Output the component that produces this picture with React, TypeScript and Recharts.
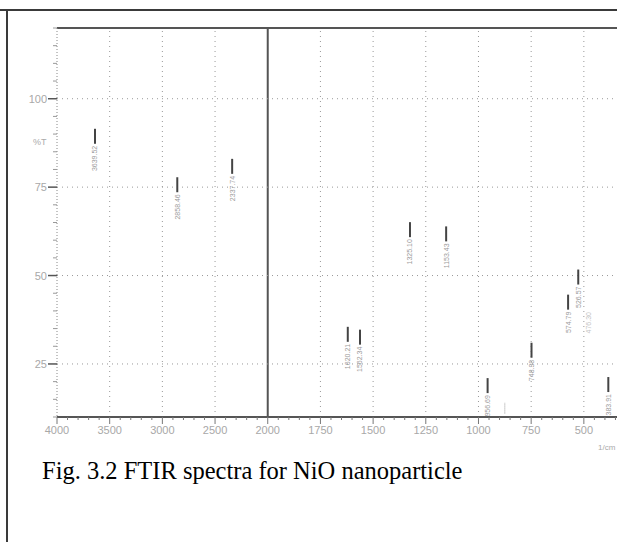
import React from "react";
import { ScatterChart, Scatter, XAxis, YAxis, ReferenceLine } from "recharts";

// Wavenumber axis (cm-1): scale doubles below 2000
const xMajorWavenumbers = [4000, 3500, 3000, 2500, 2000, 1750, 1500, 1250, 1000, 750, 500];
const xTickLabels = ["4000", "3500", "3000", "2500", "2000", "1750", "1500", "1250", "1000", "750", "500"];
const yMajorTicks = [25, 50, 75, 100];
const yTickLabels = ["25", "50", "75", "100"];

// Peak table (wavenumber, %T, label)
const peakWavenumbers = [3639.52, 2858.46, 2337.74, 1620.21, 1562.34, 1325.1, 1153.43, 956.69, 748.38, 574.79, 526.57, 476.3, 383.91];
const peakTransmittance = [91.5, 77.8, 83.0, 35.5, 34.7, 65.1, 63.9, 21.0, 31.0, 44.6, 51.7, 44.5, 21.3];
const peakLabels = ["3639.52", "2858.46", "2337.74", "1620.21", "1562.34", "1325.10", "1153.43", "956.69", "748.38", "574.79", "526.57", "476.30", "383.91"];
const peakFaint = [false, false, false, false, false, false, false, false, false, false, false, true, false];

const toU = (wn: number) => (wn >= 2000 ? (4000 - wn) / 500 : 4 + (2000 - wn) / 250);

const data = peakWavenumbers.map((wn, i) => ({
  u: toU(wn),
  t: peakTransmittance[i],
  label: peakLabels[i],
  faint: peakFaint[i],
}));

const xTicks: number[] = [];
for (let i = 0; i <= 54; i++) xTicks.push(Math.round(i * 0.2 * 100) / 100);
const yTicks: number[] = [];
for (let v = 10; v <= 120; v += 5) yTicks.push(v);

const labelFill = "#a8a8a8";

const XTick = (props: any) => {
  const { x, y, payload } = props;
  const v = payload.value;
  const majorIdx = xMajorWavenumbers.findIndex((w) => Math.abs(toU(w) - v) < 1e-6);
  const isMajor = majorIdx >= 0;
  return (
    <g>
      <line x1={x} x2={x} y1={y} y2={y + (isMajor ? 7 : 3)} stroke="#777" strokeWidth={1} />
      {isMajor && (
        <text x={x} y={y + 17} textAnchor="middle" fontSize={11} fill={labelFill} fontFamily="Liberation Sans, Arial">
          {xTickLabels[majorIdx]}
        </text>
      )}
    </g>
  );
};

const YTick = (props: any) => {
  const { x, y, payload } = props;
  const v = payload.value;
  const idx = yMajorTicks.indexOf(v);
  const isMajor = idx >= 0;
  return (
    <g>
      <line x1={x} x2={x - (isMajor ? 9 : 4)} y1={y} y2={y} stroke={isMajor ? "#555" : "#999"} strokeWidth={isMajor ? 1.5 : 1} />
      {isMajor && (
        <text x={x - 10} y={y + 4} textAnchor="end" fontSize={11} fill={labelFill} fontFamily="Liberation Sans, Arial">
          {yTickLabels[idx]}
        </text>
      )}
    </g>
  );
};

const PeakMarker = (props: any) => {
  const { cx, cy, payload } = props;
  if (cx == null || cy == null) return null;
  return (
    <g>
      {!payload.faint && <line x1={cx} x2={cx} y1={cy} y2={cy + 15} stroke="#444" strokeWidth={2} />}
      <text
        transform={`translate(${cx + 2.5},${cy + 17}) rotate(-90)`}
        textAnchor="end"
        fontSize={7}
        fill={payload.faint ? "#c4c4c4" : "#9a9a9a"}
        fontFamily="Liberation Sans, Arial"
      >
        {payload.label}
      </text>
    </g>
  );
};

const gridU = [1, 2, 3, 5, 6, 7, 8, 9, 10];

export default function App() {
  return (
    <div style={{ position: "absolute", left: 0, top: 0, width: 617, height: 542, overflow: "hidden", background: "#fff" }}>
      <div style={{ position: "absolute", left: 0, top: 9, width: 617, height: 2, background: "#3a3a3a" }} />
      <div style={{ position: "absolute", left: 6, top: 10, width: 2, height: 532, background: "#3a3a3a" }} />
      <div style={{ position: "absolute", left: 0, top: 0 }}>
        <ScatterChart width={630} height={450} margin={{ top: 28, right: 4, bottom: 8, left: 0 }}>
          <XAxis
            dataKey="u"
            type="number"
            domain={[0, 10.8]}
            allowDataOverflow
            ticks={xTicks}
            interval={0}
            tickSize={0}
            tickMargin={0}
            tickLine={false}
            tick={<XTick />}
            height={25}
            axisLine={{ stroke: "#555", strokeWidth: 2 }}
          />
          <YAxis
            dataKey="t"
            type="number"
            domain={[10, 120]}
            allowDataOverflow
            ticks={yTicks}
            interval={0}
            tickSize={0}
            tickMargin={0}
            tickLine={false}
            tick={<YTick />}
            width={57}
            axisLine={{ stroke: "#888", strokeDasharray: "1 2" }}
          />
          {gridU.map((u) => (
            <ReferenceLine key={"gx" + u} x={u} stroke="#999" strokeDasharray="1 4" />
          ))}
          <ReferenceLine x={4} stroke="#555" strokeWidth={2} />
          {yMajorTicks.map((v) => (
            <ReferenceLine key={"gy" + v} y={v} stroke="#999" strokeDasharray="1 4" />
          ))}
          <ReferenceLine y={120} stroke="#555" strokeWidth={2} />
          <ReferenceLine
            segment={[{ x: 8.47, y: 10 }, { x: 8.6, y: 10 }]}
            stroke="#fff"
            strokeWidth={4}
          />
          <ReferenceLine
            segment={[{ x: 8.5, y: 11 }, { x: 8.5, y: 14 }]}
            stroke="#999"
            strokeDasharray="1 1"
          />
          <Scatter data={data} isAnimationActive={false} shape={<PeakMarker />} />
        </ScatterChart>
      </div>
      <div style={{ position: "absolute", left: 33, top: 137, fontSize: 9, color: "#aaa", fontFamily: "Liberation Sans, Arial" }}>%T</div>
      <div style={{ position: "absolute", left: 598, top: 443, fontSize: 8, color: "#aaa", fontFamily: "Liberation Sans, Arial", whiteSpace: "nowrap" }}>1/cm</div>
      <div
        style={{
          position: "absolute",
          left: 42,
          top: 458.5,
          fontSize: "24.5px",
          lineHeight: "24.5px",
          fontFamily: "Liberation Serif, Times New Roman, serif",
          color: "#000",
          whiteSpace: "nowrap",
        }}
      >
        Fig. 3.2 FTIR spectra for NiO nanoparticle
      </div>
    </div>
  );
}
